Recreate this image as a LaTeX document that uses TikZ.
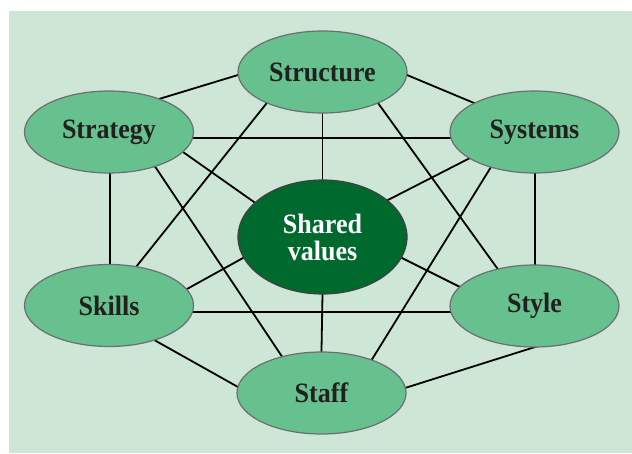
\documentclass[tikz,border=0pt]{standalone}
\usepackage{fontspec}
\setmainfont{Liberation Serif}
\usetikzlibrary{shapes.geometric}
\definecolor{paper}{HTML}{CDE6D5}
\definecolor{leaf}{HTML}{66C18E}
\definecolor{rim}{HTML}{6D6E71}
\definecolor{core}{HTML}{006A2E}
\definecolor{ink}{HTML}{231F20}
\pgfdeclarelayer{back}
\pgfdeclarelayer{links}
\pgfsetlayers{back,links,main}
% slightly narrowed lettering
\newcommand{\sq}[1]{\scalebox{0.93}[1]{#1}}

\begin{document}
\begin{tikzpicture}[x=1pt,y=-1pt,
  elem/.style={ellipse, draw=rim, line width=1.2pt, fill=leaf,
    minimum width=169pt, minimum height=82pt, inner sep=0pt,
    font=\fontsize{28}{26}\selectfont\bfseries, text=ink},
  corebox/.style={elem, fill=core, draw=black!75, minimum height=114pt,
    text=white, align=center},
  link/.style={line width=1.8pt, black, shorten <=-4pt, shorten >=-4pt}]

\useasboundingbox (0,0) rectangle (632,453);
\begin{pgfonlayer}{back}
  \fill[paper] (9,11) rectangle (632,453);
\end{pgfonlayer}

% the seven elements
\node[elem]    (structure) at (322.5,72)  {\sq{Structure}};
\node[elem]    (strategy)  at (109,132)   {\sq{Strategy}};
\node[elem]    (systems)   at (534.5,132) {\sq{Systems}};
\node[corebox] (shared)    at (322.5,237) {\sq{Shared}\\[1pt]\sq{values}};
\node[elem]    (skills)    at (109,305.5) {\sq{Skills}};
\node[elem]    (style)     at (534.5,306) {\sq{Style}};
\node[elem]    (staff)     at (321.5,393) {\sq{Staff}};

% connections, kept behind the ellipses
\begin{pgfonlayer}{links}
  % outer ring
  \draw[link] ([shift={(50,-33)}]strategy.center) -- ([shift={(-84.5,3)}]structure.center);
  \draw[link] ([shift={(84.5,3)}]structure.center) -- ([shift={(-60.5,-29)}]systems.center);
  \draw[link] ([shift={(1,41)}]strategy.center) -- ([shift={(1,-41.5)}]skills.center);
  \draw[link] ([shift={(0.5,41)}]systems.center) -- ([shift={(0.5,-41)}]style.center);
  \draw[link] ([shift={(47,35.5)}]skills.center) -- ([shift={(-83.5,-6)}]staff.center);
  \draw[link] ([shift={(83.5,-5)}]staff.center) -- ([shift={(0.5,41)}]style.center);
  % long chords
  \draw[link] ([shift={(84,5.7)}]strategy.center) -- ([shift={(-84.5,5.7)}]systems.center);
  \draw[link] ([shift={(84,6.5)}]skills.center) -- ([shift={(-84.5,6)}]style.center);
  \draw[link] ([shift={(-56.5,32)}]structure.center) -- ([shift={(27,-38.5)}]skills.center);
  \draw[link] ([shift={(55.5,31)}]structure.center) -- ([shift={(-37.5,-38)}]style.center);
  \draw[link] ([shift={(47,36)}]strategy.center) -- ([shift={(-38.5,-35)}]staff.center);
  \draw[link] ([shift={(-43.5,35)}]systems.center) -- ([shift={(49.5,-32)}]staff.center);
  % spokes to the centre
  \draw[link] ([shift={(0,41)}]structure.center) -- ([shift={(0,-57)}]shared.center);
  \draw[link] ([shift={(0,57)}]shared.center) -- ([shift={(0,-43)}]staff.center);
  \draw[link] ([shift={(74,20)}]strategy.center) -- ([shift={(-68.5,-35)}]shared.center);
  \draw[link] ([shift={(-64.5,26)}]systems.center) -- ([shift={(65.5,-37)}]shared.center);
  \draw[link] ([shift={(78,-16.5)}]skills.center) -- ([shift={(-79.5,21)}]shared.center);
  \draw[link] ([shift={(-76.5,-20)}]style.center) -- ([shift={(79.5,21)}]shared.center);
\end{pgfonlayer}
\end{tikzpicture}
\end{document}
